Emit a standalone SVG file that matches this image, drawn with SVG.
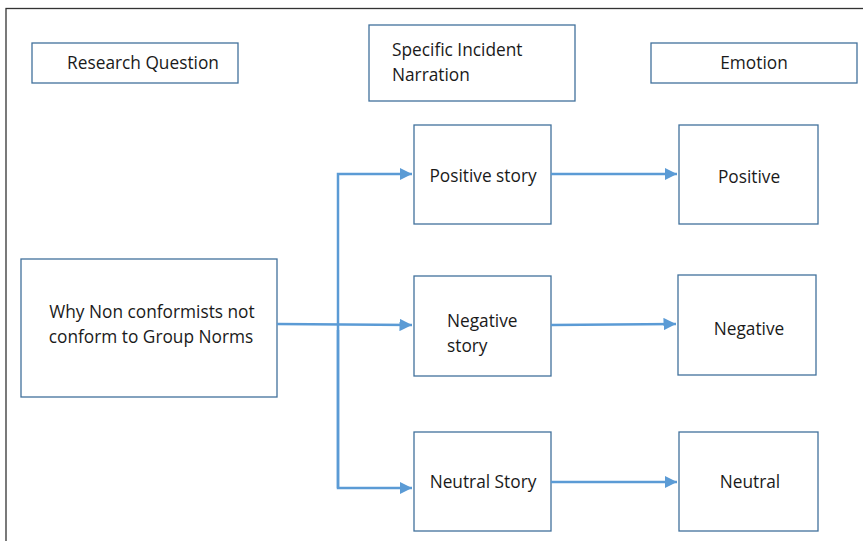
<svg xmlns="http://www.w3.org/2000/svg" width="863" height="541" viewBox="0 0 863 541">
<defs>
<marker id="ah" viewBox="0 0 10 10" refX="10" refY="5" markerWidth="5" markerHeight="5" orient="auto" markerUnits="strokeWidth">
<path d="M0,0 L10,5 L0,10 z" fill="#5B9BD5"/>
</marker>
<style>
.box{fill:#fff;stroke:#41719C;stroke-width:1.3}
.t{font-family:"Open Sans","Noto Sans",sans-serif;font-size:17.3px;fill:#1a1a1a}
.c{text-anchor:middle}
.ln{fill:none;stroke:#5B9BD5;stroke-width:2.5}
</style>
</defs>
<rect width="863" height="541" fill="#fff"/>
<rect x="6" y="8.5" width="900" height="600" fill="none" stroke="#333" stroke-width="1.3"/>
<g id="hdr-rq"><rect class="box" x="32" y="43" width="206" height="40"/><text class="t c" x="143" y="69">Research Question</text></g>
<g id="hdr-sin"><rect class="box" x="369" y="25" width="206" height="76"/><text class="t" x="392" y="56">Specific Incident</text><text class="t" x="392" y="81">Narration</text></g>
<g id="hdr-em"><rect class="box" x="651" y="43" width="206" height="40"/><text class="t c" x="754" y="69">Emotion</text></g>
<g id="why"><rect class="box" x="21" y="259" width="256" height="138"/><text class="t c" x="152" y="318">Why Non conformists not</text><text class="t c" x="151" y="343">conform to Group Norms</text></g>
<g id="pos-story"><rect class="box" x="414" y="125" width="137" height="99"/><text class="t c" x="483" y="182">Positive story</text></g>
<g id="neg-story"><rect class="box" x="414" y="276" width="137" height="100"/><text class="t" x="447" y="327">Negative</text><text class="t" x="447" y="352">story</text></g>
<g id="neu-story"><rect class="box" x="414" y="432" width="137" height="99"/><text class="t c" x="483" y="488">Neutral Story</text></g>
<g id="pos"><rect class="box" x="679" y="125" width="139" height="99"/><text class="t c" x="749" y="183">Positive</text></g>
<g id="neg"><rect class="box" x="678" y="275" width="138" height="100"/><text class="t c" x="749" y="335">Negative</text></g>
<g id="neu"><rect class="box" x="679" y="432" width="139" height="99"/><text class="t c" x="750" y="488">Neutral</text></g>
<g id="connectors">
<path class="ln" d="M277,324 L412,325" marker-end="url(#ah)"/>
<path class="ln" d="M338,488 L338,174 L412,174" marker-end="url(#ah)"/>
<path class="ln" d="M338,330 L338,488 L412,488" marker-end="url(#ah)"/>
<path class="ln" d="M551,174 L677,174" marker-end="url(#ah)"/>
<path class="ln" d="M551,325 L676,324" marker-end="url(#ah)"/>
<path class="ln" d="M551,482 L677,482" marker-end="url(#ah)"/>
</g>
</svg>
